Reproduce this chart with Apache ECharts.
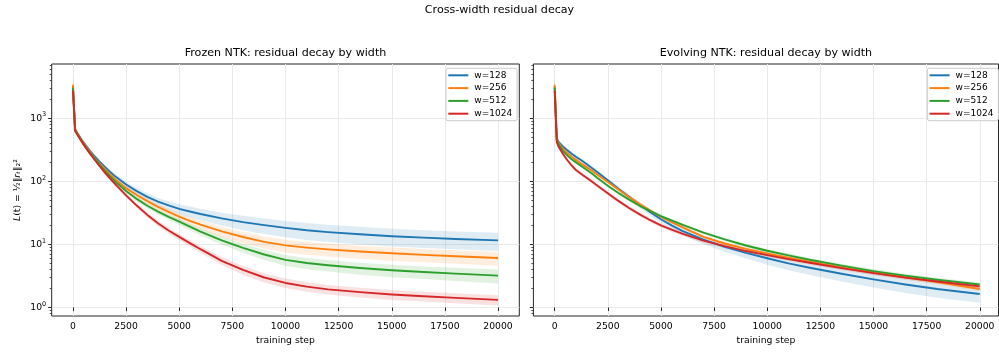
<!DOCTYPE html>
<html>
<head>
<meta charset="utf-8">
<script src="https://cdn.jsdelivr.net/npm/echarts@6/dist/echarts.min.js"></script>
<style>
html, body { margin: 0; padding: 0; background: #fff; }
#chart { width: 999px; height: 354px; }
</style>
</head>
<body>
<div id="chart"></div>
<script>
// Training steps at which the residual loss was logged
const steps = [0, 100, 200, 400, 600, 800, 1000, 1250, 1500, 1750, 2000, 2500, 3000, 3500, 4000, 4500,
  5000, 5500, 6000, 7000, 8000, 9000, 10000, 11000, 12000, 13500, 15000, 16500, 18000, 20000];
const widthNames = ['w=128', 'w=256', 'w=512', 'w=1024'];

// Frozen NTK: mean residual loss per width
const frozen128  = [3200, 676, 589, 462, 372, 304, 253, 205, 169, 141, 119, 89.1, 70.0, 56.9, 47.9, 41.5,
  36.7, 33.3, 30.4, 25.9, 22.6, 20.2, 18.3, 16.8, 15.7, 14.5, 13.5, 12.8, 12.2, 11.6];
const frozen256  = [3400, 670, 582, 454, 362, 294, 241, 193, 157, 129, 107, 78.0, 60.8, 48.5, 39.4, 32.7,
  27.5, 23.7, 20.6, 16.1, 13.1, 11.0, 9.66, 8.91, 8.36, 7.73, 7.24, 6.84, 6.50, 6.10];
const frozen512  = [3050, 661, 573, 445, 353, 286, 235, 184, 148, 120, 98.9, 70.3, 52.7, 41.1, 33.2, 27.3,
  22.9, 19.1, 16.0, 11.6, 8.81, 6.92, 5.69, 5.07, 4.68, 4.22, 3.89, 3.65, 3.44, 3.20];
const frozen1024 = [2750, 631, 552, 431, 343, 275, 224, 175, 138, 111, 89.3, 60.0, 41.3, 29.4, 21.6, 16.6,
  13.2, 10.5, 8.4, 5.5, 3.94, 2.99, 2.45, 2.14, 1.94, 1.75, 1.61, 1.51, 1.42, 1.32];
// Frozen NTK: spread across seeds (one std)
const frozenStd128  = [1500, 40, 36, 30, 25, 21, 18, 15.5, 13.5, 12, 10.8, 9, 8.2, 7.6, 7.2, 6.9,
  6.7, 6.5, 6.3, 6.0, 5.8, 5.5, 5.3, 5.0, 4.8, 4.5, 4.2, 4.0, 3.85, 3.7];
const frozenStd256  = [1800, 35, 31, 26, 21, 17.5, 14.5, 12, 10.5, 9.2, 8.2, 6.8, 5.8, 5.0, 4.5, 4.1,
  3.8, 3.5, 3.3, 2.95, 2.65, 2.4, 2.2, 2.05, 1.95, 1.82, 1.72, 1.63, 1.56, 1.5];
const frozenStd512  = [1400, 33, 29, 24, 19.5, 16, 13.5, 11, 9.5, 8.2, 7.2, 5.8, 4.7, 3.9, 3.3, 2.9,
  2.6, 2.3, 2.05, 1.7, 1.45, 1.25, 1.1, 1.02, 0.96, 0.9, 0.86, 0.83, 0.81, 0.8];
const frozenStd1024 = [1300, 30, 26, 21, 17, 14, 11.5, 9.5, 8, 6.8, 5.8, 4.7, 3.6, 2.8, 2.2, 1.8,
  1.5, 1.25, 1.05, 0.8, 0.62, 0.5, 0.42, 0.37, 0.34, 0.31, 0.29, 0.27, 0.255, 0.24];

// Evolving NTK: mean residual loss per width
const evolving128  = [3200, 473, 416, 355, 310, 275, 246, 216, 188, 163, 141, 104, 76.7, 56.9, 42.7, 32.4,
  25.1, 20.0, 16.4, 11.9, 9.12, 7.33, 6.03, 5.01, 4.27, 3.43, 2.79, 2.32, 1.96, 1.64];
const evolving256  = [3400, 462, 398, 324, 279, 245, 219, 191, 168, 147, 128, 97.7, 74.1, 56.5, 43.7, 34.3,
  27.5, 22.6, 18.8, 13.2, 10.35, 8.51, 7.21, 6.17, 5.31, 4.32, 3.59, 3.01, 2.52, 1.96];
const evolving512  = [3050, 457, 376, 302, 256, 225, 200, 175, 153, 133, 114, 85.1, 65.3, 51.3, 41.0, 33.7,
  28.2, 24.0, 20.6, 15.4, 12.0, 9.62, 7.94, 6.70, 5.71, 4.62, 3.78, 3.20, 2.75, 2.32];
const evolving1024 = [2750, 417, 347, 269, 216, 179, 151, 131, 114, 99.3, 86.1, 64.6, 49.0, 37.8, 29.9, 24.2,
  20.0, 17.1, 14.8, 11.5, 9.38, 7.85, 6.76, 5.86, 5.13, 4.20, 3.50, 2.98, 2.58, 2.16];
// Evolving NTK: spread across seeds (one std)
const evolvingStd128  = [1500, 30, 27, 23, 20, 18, 16, 14, 12.5, 11, 10, 8.5, 7, 5.8, 4.8, 3.9,
  3.2, 2.7, 2.3, 1.8, 1.5, 1.35, 1.25, 1.1, 0.98, 0.85, 0.72, 0.62, 0.53, 0.45];
const evolvingStd256  = [1800, 25, 21, 17, 14, 12, 11, 9.5, 8.5, 7.5, 6.5, 5.0, 3.9, 3.0, 2.4, 1.9,
  1.55, 1.3, 1.1, 0.8, 0.62, 0.52, 0.45, 0.39, 0.34, 0.28, 0.24, 0.2, 0.18, 0.15];
const evolvingStd512  = [1400, 25, 21, 17, 14, 12, 10.5, 9, 8, 7, 6, 4.5, 3.6, 2.9, 2.4, 2.0,
  1.7, 1.45, 1.25, 0.95, 0.75, 0.62, 0.53, 0.46, 0.4, 0.33, 0.28, 0.24, 0.21, 0.18];
const evolvingStd1024 = [1300, 25, 21, 17, 14, 12, 10, 8.5, 7.3, 6.3, 5.5, 4.3, 3.4, 2.7, 2.2, 1.8,
  1.5, 1.3, 1.1, 0.85, 0.68, 0.56, 0.48, 0.42, 0.37, 0.31, 0.26, 0.22, 0.19, 0.16];

// Axis ticks
const xTicks = [0, 2500, 5000, 7500, 10000, 12500, 15000, 17500, 20000];
const yDecades = [0, 1, 2, 3];

const colors = ['#1f77b4', '#ff7f0e', '#2ca02c', '#d62728'];
const FONT = 'DejaVu Sans';
const Y_MIN = 0.733, Y_MAX = 7260;
const LOG_MIN = Math.log10(Y_MIN), LOG_MAX = Math.log10(Y_MAX);

// minor log ticks (2..9 within each decade)
const minorTicks = [];
for (let d = -1; d <= 3; d++) {
  for (let k = 2; k <= 9; k++) {
    const v = Math.log10(k) + d;
    if (v > LOG_MIN && v < LOG_MAX) minorTicks.push(v);
  }
}

const panels = [
  { title: 'Frozen NTK: residual decay by width', left: 51.7, width: 467.6, xMax: 21000,
    means: [frozen128, frozen256, frozen512, frozen1024],
    stds: [frozenStd128, frozenStd256, frozenStd512, frozenStd1024],
    legendLeft: 446, yLabels: true },
  { title: 'Evolving NTK: residual decay by width', left: 533.4, width: 465.1, xMax: 20882,
    means: [evolving128, evolving256, evolving512, evolving1024],
    stds: [evolvingStd128, evolvingStd256, evolvingStd512, evolvingStd1024],
    legendLeft: 927.3, yLabels: false }
];

const TOP = 64, HEIGHT = 252;
const grids = [], xAxes = [], yAxes = [], series = [], legends = [], graphics = [];

graphics.push({
  type: 'text', left: 'center', top: 4.5,
  style: { text: 'Cross-width residual decay', font: `11.1px "${FONT}"`, fill: '#000' }
});

// shaded mean ± std band, drawn as one polygon through the axis scales
function bandSeries(pi, mean, std, color) {
  return {
    type: 'custom', xAxisIndex: pi, yAxisIndex: pi * 3, silent: true, clip: true,
    data: [[steps[0], mean[0]]],
    renderItem: (params, api) => {
      const upper = steps.map((t, k) => api.coord([t, mean[k] + std[k]]));
      const lower = steps.map((t, k) => api.coord([t, mean[k] - std[k]])).reverse();
      return {
        type: 'polygon', shape: { points: upper.concat(lower) },
        style: { fill: color, opacity: 0.14 }
      };
    }
  };
}

panels.forEach((p, pi) => {
  grids.push({ left: p.left, top: TOP, width: p.width, height: HEIGHT, show: true,
    borderColor: '#262626', borderWidth: 1, backgroundColor: 'transparent' });

  graphics.push({
    type: 'text', x: p.left + p.width / 2, y: 53,
    style: { text: p.title, font: `11.1px "${FONT}"`, fill: '#000', align: 'center', verticalAlign: 'middle' }
  });

  xAxes.push({
    type: 'value', gridIndex: pi, min: -1000, max: p.xMax,
    name: 'training step', nameLocation: 'middle', nameGap: 19,
    nameTextStyle: { fontFamily: FONT, fontSize: 9.25, color: '#000' },
    axisLine: { show: false },
    axisTick: { show: true, customValues: xTicks, length: 3.5, lineStyle: { color: '#262626', width: 1 } },
    axisLabel: { customValues: xTicks, formatter: v => String(v), margin: 6.5,
      fontFamily: FONT, fontSize: 9.25, color: '#000' },
    splitLine: { show: true, lineStyle: { color: '#e9e9e9', width: 1 } }
  });

  // data axis (log scale)
  yAxes.push({ type: 'log', logBase: 10, gridIndex: pi, min: Y_MIN, max: Y_MAX, show: false });
  // decade ticks, labels and grid lines
  yAxes.push({
    type: 'value', gridIndex: pi, min: LOG_MIN, max: LOG_MAX, position: 'left',
    axisLine: { show: false },
    axisTick: { show: true, customValues: yDecades, length: 3.5, lineStyle: { color: '#262626', width: 1 } },
    axisLabel: {
      show: p.yLabels, customValues: yDecades, margin: 5.5,
      formatter: v => '{b|10}{s|' + v + '}',
      rich: {
        b: { fontFamily: FONT, fontSize: 9.25, color: '#000' },
        s: { fontFamily: FONT, fontSize: 6.5, color: '#000', padding: [0, 0, 7, 0] }
      }
    },
    splitLine: { show: true, lineStyle: { color: '#e9e9e9', width: 1 } }
  });
  // minor log ticks
  yAxes.push({
    type: 'value', gridIndex: pi, min: LOG_MIN, max: LOG_MAX, position: 'left',
    axisLine: { show: false },
    axisTick: { show: true, customValues: minorTicks, length: 2, lineStyle: { color: '#262626', width: 0.8 } },
    axisLabel: { show: false },
    splitLine: { show: false }
  });

  p.means.forEach((mean, i) => {
    series.push(bandSeries(pi, mean, p.stds[i], colors[i]));
    series.push({
      type: 'line', name: widthNames[i], xAxisIndex: pi, yAxisIndex: pi * 3,
      symbol: 'none', color: colors[i],
      lineStyle: { color: colors[i], width: 1.9, join: 'round' },
      data: steps.map((t, k) => [t, mean[k]])
    });
  });

  legends.push({
    data: widthNames, orient: 'vertical', left: p.legendLeft, top: 68.3,
    icon: 'rect', itemWidth: 20, itemHeight: 2, itemGap: 3.8,
    padding: [2.5, 5, 2.5, 2.3],
    backgroundColor: 'rgba(255,255,255,0.8)', borderColor: '#cccccc', borderWidth: 1, borderRadius: 2,
    textStyle: { fontFamily: FONT, fontSize: 9, color: '#000', lineHeight: 9, padding: [0, 0, 0, 1] },
    selectedMode: false
  });
});

// shared y-axis label
graphics.push({
  type: 'text', x: 17.5, y: 190, rotation: Math.PI / 2,
  style: {
    text: '{i|L}(t) = ½‖{i|r}{i|ₜ}‖₂²',
    align: 'center', verticalAlign: 'middle',
    font: `9.25px "${FONT}"`, fill: '#000',
    rich: { i: { fontStyle: 'italic', fontFamily: FONT, fontSize: 9.25, fill: '#000' } }
  }
});

const chart = echarts.init(document.getElementById('chart'), null, { renderer: 'canvas' });
chart.setOption({
  animation: false,
  backgroundColor: '#fff',
  grid: grids,
  xAxis: xAxes,
  yAxis: yAxes,
  legend: legends,
  series: series,
  graphic: graphics
});
</script>
</body>
</html>
